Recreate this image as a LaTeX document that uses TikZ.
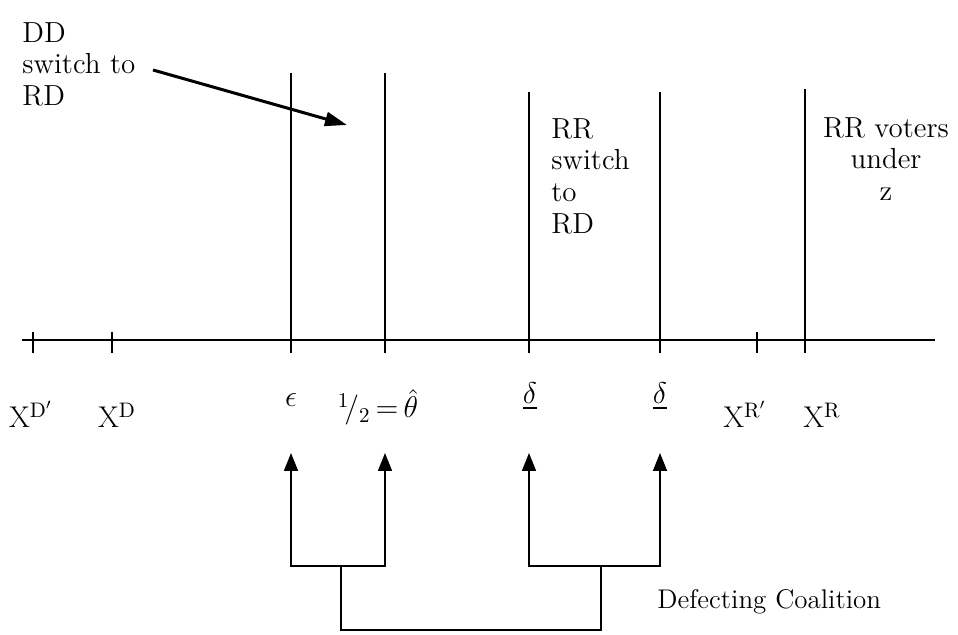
\RequirePackage{fix-cm}
\documentclass[tikz,border=0pt]{standalone}
\usepackage{amsmath}
\usepackage{fontspec}
\usetikzlibrary{positioning, arrows.meta, calc}

\begin{document}
\begin{tikzpicture}[
    x=0.5pt, y=-0.5pt,
    >={Triangle[length=9pt, width=7pt]},
    every node/.style={inner sep=0pt},
    note/.style={
        font=\fontsize{14.5}{15.8}\selectfont,
    },
    marklabel/.style={
        anchor=base,
        font=\fontsize{15}{17}\selectfont,
    },
    axisline/.style={line width=1.2pt},
    tickmark/.style={line width=1.2pt},
    boundary/.style={line width=1pt},
    pointer/.style={->, line width=0.8pt},
    bracket/.style={line width=0.8pt},
    callout/.style={-{Triangle[length=11pt, width=7pt]}, line width=1.5pt},
]
\useasboundingbox (0,0) rectangle (958,635);

% -- Axis height
\def\axisy{340}

% -- Axis
\coordinate (axl) at (22,\axisy);
\coordinate (axr) at (935,\axisy);
\draw[axisline] (axl) -- (axr);

% -- Tick marks
\foreach \name/\x in {xdp/33, xd/112, eps/291, half/385, dlo/529, dhi/660, xrp/757, xr/805} {
    \coordinate (\name) at (\x,\axisy);
    \draw[tickmark] ($(\name)+(0,-8)$) -- ($(\name)+(0,13)$);
}

% -- Region boundaries
\foreach \name/\ytop in {eps/73, half/73, dlo/92, dhi/92, xr/89} {
    \draw[boundary] ($(\name)+(0,13)$) -- ($(\name)+(0,\ytop-\axisy)$);
}

% -- Axis labels
\node[marklabel] (lxdp) at (31,428) {$\mathrm{X}^{\mathrm{D}'}$};
\node[marklabel] (lxd) at (117,428) {$\mathrm{X}^{\mathrm{D}}$};
\node[marklabel] (leps) at (291,407) {$\epsilon$};
\node[marklabel] (lhalf) at (378,418) {${}^{1}\!/_{2}\,{=}\,\hat{\theta}$};
\node[marklabel] (ldlo) at (530,404) {$\underline{\delta}$};
\node[marklabel] (ldhi) at (660,404) {$\underline{\delta}$};
\node[marklabel] (lxrp) at (745,428) {$\mathrm{X}^{\mathrm{R}'}$};
\node[marklabel] (lxr) at (822,428) {$\mathrm{X}^{\mathrm{R}}$};

% -- Region notes
\node[note, anchor=north west, align=left] (ddnote) at (22,22) {DD\\switch to\\RD};
\node[note, anchor=north west, align=left] (rrnote) at (551,118) {RR\\switch\\to\\RD};
\node[note, anchor=north, align=center] (votersnote) at (886,117) {RR voters\\under\\z};

% -- Callout from DD note
\coordinate (calltail) at (153,70);
\coordinate (calltip) at (347,125);
\draw[callout] (calltail) -- (calltip);

% ===== Coalition brackets =====
\coordinate (epsarr) at (291,453);
\coordinate (halfarr) at (385,453);
\coordinate (dloarr) at (529,453);
\coordinate (dhiarr) at (660,453);
\coordinate (lstem) at (341,566);
\coordinate (rstem) at (601,566);
\coordinate (coaljoin) at (470,630);

\draw[pointer] (lstem) -| (epsarr);
\draw[pointer] (lstem) -| (halfarr);
\draw[pointer] (rstem) -| (dloarr);
\draw[pointer] (rstem) -| (dhiarr);
\draw[bracket] (lstem) |- (coaljoin) -| (rstem);

\node[note, font=\fontsize{13.5}{15}\selectfont, anchor=base west] (coalition) at (657,609) {Defecting Coalition};

\end{tikzpicture}
\end{document}
